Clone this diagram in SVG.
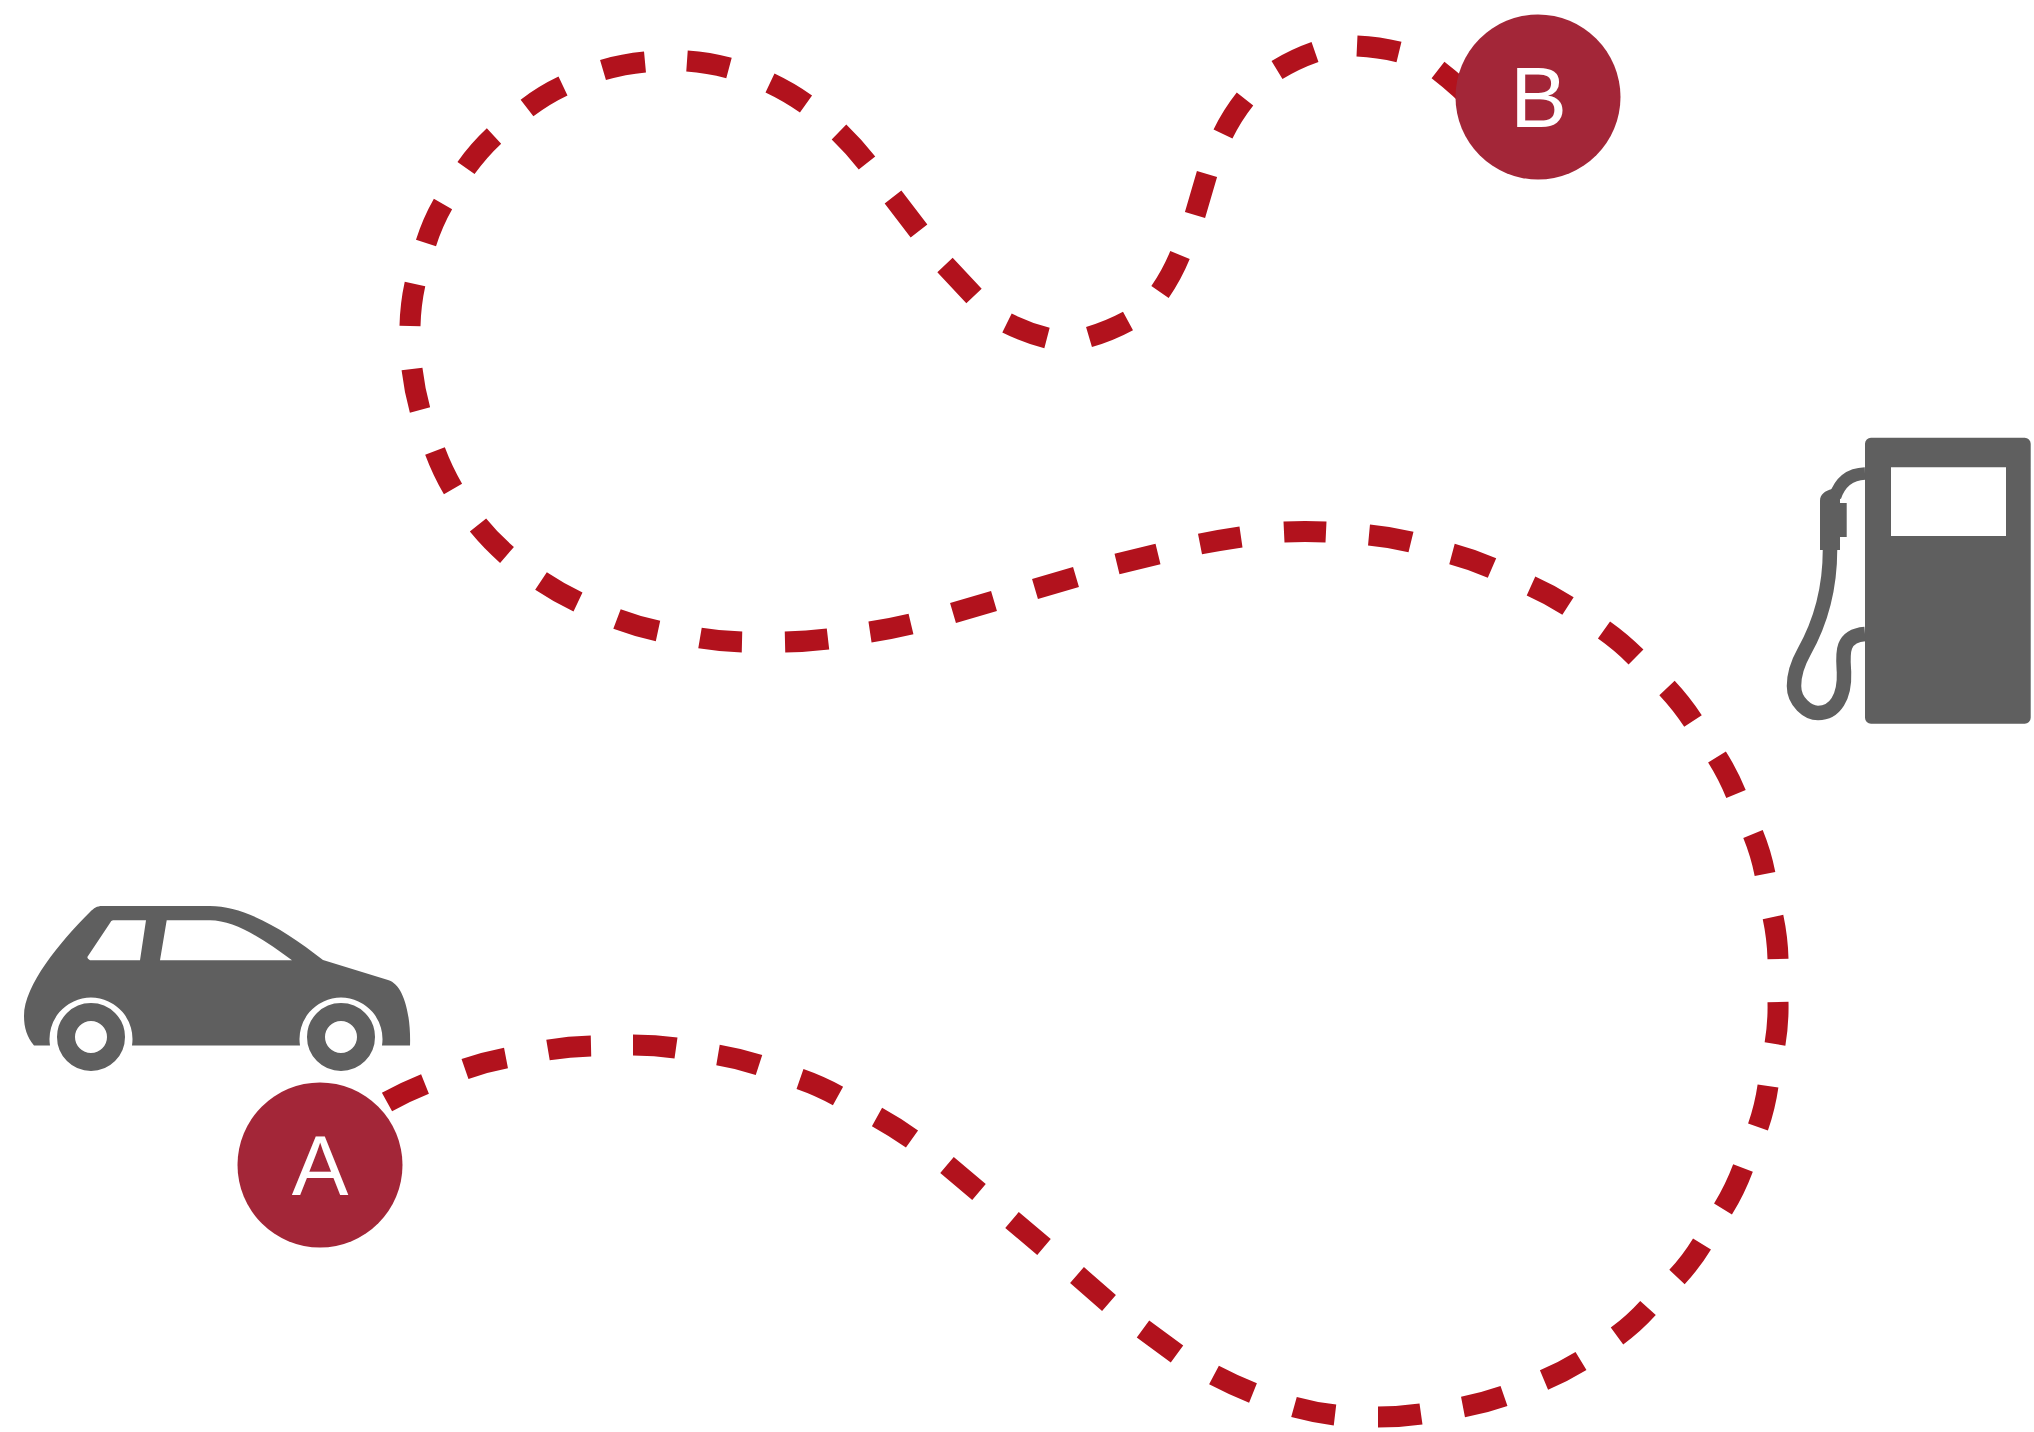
<svg xmlns="http://www.w3.org/2000/svg" width="2034" height="1432" viewBox="0 0 2034 1432">
<style>
.route{fill:none;stroke:#b2121d;stroke-width:21}
.icon{fill:#5f5f5f}
.hose{fill:none;stroke:#5f5f5f}
.pin{fill:#a32638}
.lbl{font-family:"Liberation Sans",Arial,sans-serif;font-size:85px;fill:#fff;text-anchor:middle}
</style>
<rect width="2034" height="1432" fill="#fff"/>
<g id="connectors">
<path id="route-a-b" class="route" d="M387,1102Q405,1092 425,1084M465,1069Q485,1062 506,1058M548,1050Q569,1046.5 591,1046M633,1045Q655,1045 676,1048M718,1055Q739,1058.5 759,1065M800,1079Q820,1086 838,1096M877,1117Q895,1127 912,1139M947,1165L979,1192M1012,1220L1044,1247M1077,1275L1109,1303M1143,1329L1177,1354M1214,1375Q1233,1385 1253,1393M1294,1407Q1314,1412.5 1335,1415M1378,1417Q1400,1417 1421,1414M1463,1407Q1484,1403 1504,1396M1544,1380Q1563,1372 1581,1361M1617,1336Q1634,1323.5 1648,1308M1677,1277Q1691,1262 1702,1244M1723,1209Q1735,1189.5 1743,1168M1758,1127Q1765,1107 1768,1086M1775,1044Q1778.5,1023 1778,1002M1778,959Q1777.5,938 1773,917M1765,874Q1761,853.5 1753,834M1736,794Q1728,774.5 1717,757M1693,721Q1681.5,703.5 1667,688M1636,657Q1621,642 1604,630M1568,606Q1550,594.5 1531,586M1492,568Q1472.5,559.5 1452,554M1411,542Q1390.5,537 1369,535M1326,532Q1305,531 1284,532M1241,537Q1220.5,540 1200,544M1158,554L1117,564M1076,577L1035,589M994,601L953,613M911,624Q890,629 870,632M828,639Q806.5,641.5 785,642M742,642Q721,641.5 700,638M658,631Q637,626.5 617,619M578,602Q559,593 541,581M507,555Q491,541 478,525M453,489Q442.5,471 435,451M420,410Q414.5,390 412,369M410,326Q410.5,304.5 415,284M426,243Q432.5,222.5 443,204M466,168Q478.5,150.5 494,136M527,108Q544,95 563,86M603,70Q623.5,64 645,62M687,61Q708.5,62.5 729,68M770,83Q789,92 806,104M839,132Q854,146.5 867,163M893,197L919,231M945,265L974,296M1007,323Q1026,332.5 1047,338M1089,337Q1109.5,331 1128,321M1160,292Q1172,274.5 1180,255M1195,215L1207,174M1223,134Q1232,115.5 1245,99M1277,70Q1295,59 1315,52M1357,46Q1378.5,47 1399,52M1438,70Q1460,87 1480,108"/>
</g>
<g id="car">
<path class="icon" fill-rule="evenodd" d="M34,1045.5C27,1037 24,1028 24,1016C24,985 60,942 90,912C94,908 97,906 102,906L210,906C245,906 285,930 323,960L388,980C405,985 411,1018 410,1045.5L382,1045.5A41.5,41.5 0 1 0 300,1045.5L132,1045.5A41.5,41.5 0 1 0 50,1045.5Z M113,920.3L146,920.3L140,960.3L90,960.3Q86,958 88,956L110,923Q111,920.3 113,920.3Z M166.7,920.3L210,920.3C235,920.3 265,940 292,960.3L160,960.3Z"/>
<circle class="hose" cx="91" cy="1037" r="25" stroke-width="18"/>
<circle class="hose" cx="341" cy="1037" r="25" stroke-width="18"/>
</g>
<g id="pump">
<path class="icon" fill-rule="evenodd" d="M1871,437.7H2024.7A6,6 0 0 1 2030.7,443.7V717.7A6,6 0 0 1 2024.7,723.7H1871A6,6 0 0 1 1865,717.7V443.7A6,6 0 0 1 1871,437.7Z M1891,467.3V536H2006V467.3Z"/>
<path class="hose" stroke-width="12.5" d="M1865,473.5C1850,474 1840,482 1835,497"/>
<path class="icon" d="M1820,550V501C1820,494 1825,491 1832,489L1840,495V503H1846.7V537H1840V550Z"/>
<path class="hose" stroke-width="14.5" d="M1830,550C1830,585 1822,620 1804,652C1795,668 1794,678 1794,686C1794,702 1808,713 1818,713C1835,713 1845,697 1844,672C1843,655 1840,636 1865,634"/>
</g>
<g id="node-a">
<circle class="pin" cx="320" cy="1165" r="82.5"/>
<text class="lbl" x="320" y="1195">A</text>
</g>
<g id="node-b">
<circle class="pin" cx="1538" cy="97" r="82.5"/>
<text class="lbl" x="1538.5" y="126.5">B</text>
</g>
</svg>
